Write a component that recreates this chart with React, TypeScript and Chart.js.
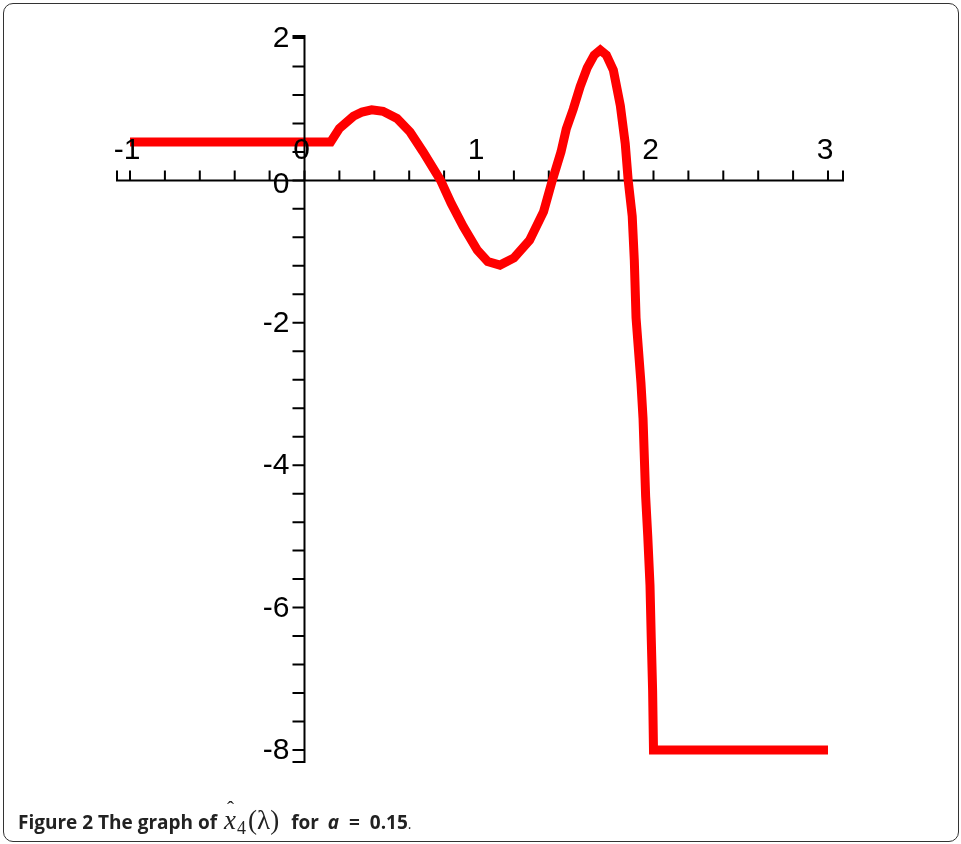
import React, { useEffect, useRef } from "react";
import { Chart, registerables } from "chart.js";

Chart.register(...registerables);

// λ samples and the corresponding values of x̂4(λ) for a = 0.15
const lambdaValues = [
  -1, 0.15, 0.2, 0.28, 0.33, 0.385, 0.45, 0.53, 0.605, 0.68, 0.75, 0.78, 0.84, 0.91, 0.99, 1.05, 1.12,
  1.2, 1.29, 1.37, 1.42, 1.47, 1.5, 1.54, 1.58, 1.62, 1.66, 1.695, 1.73, 1.77, 1.79, 1.81, 1.838,
  1.855, 1.878, 1.89, 1.9, 1.928, 1.94, 1.955, 1.967, 1.98, 1.987, 1.995, 2.0, 3.0,
];
const x4Values = [
  0.54, 0.54, 0.73, 0.9, 0.96, 0.99, 0.97, 0.87, 0.68, 0.4, 0.12, 0.0, -0.32, -0.65, -0.98, -1.14, -1.19,
  -1.09, -0.84, -0.44, 0.0, 0.4, 0.72, 1.0, 1.32, 1.58, 1.76, 1.83, 1.76, 1.55, 1.3, 1.05, 0.52,
  0.0, -0.5, -1.12, -1.93, -2.84, -3.34, -4.44, -4.99, -5.69, -6.42, -7.17, -8.0, -8.0,
];

// axis ticks
const xTickLabels = ["-1", "0", "1", "2", "3"];
const yTickLabels = ["2", "0", "-2", "-4", "-6", "-8"];
const xMinorStep = 0.2;
const yMinorStep = 0.4;
const xRange = [-1.0745, 3.086];
const yRange = [-8.169, 2.028];

const LABEL_FONT = '30px "Liberation Sans", Arial, sans-serif';

// Axes drawn through the origin, with ticks on one side, as in a classic CAS plot
const crossAxes = {
  id: "crossAxes",
  beforeDatasetsDraw(chart: any) {
    const { ctx, chartArea } = chart;
    const xs = chart.scales.x;
    const ys = chart.scales.y;
    const y0 = ys.getPixelForValue(0);
    ctx.save();
    ctx.strokeStyle = "#000";
    ctx.lineWidth = 2;
    ctx.beginPath();
    ctx.moveTo(chartArea.left, y0);
    ctx.lineTo(chartArea.right, y0);
    const first = Number(xTickLabels[0]);
    const last = Number(xTickLabels[xTickLabels.length - 1]);
    const n = Math.round((last - first) / xMinorStep);
    const tickXs: number[] = [chartArea.left, chartArea.right];
    for (let i = 0; i <= n; i++) tickXs.push(xs.getPixelForValue(first + i * xMinorStep));
    for (const px of tickXs) {
      ctx.moveTo(px, y0 + 1);
      ctx.lineTo(px, y0 - 10);
    }
    ctx.stroke();
    ctx.restore();
  },
  afterDatasetsDraw(chart: any) {
    const { ctx, chartArea } = chart;
    const xs = chart.scales.x;
    const ys = chart.scales.y;
    const x0 = xs.getPixelForValue(0);
    const y0 = ys.getPixelForValue(0);
    ctx.save();
    ctx.strokeStyle = "#000";
    ctx.lineWidth = 2;
    ctx.beginPath();
    ctx.moveTo(x0, chartArea.top);
    ctx.lineTo(x0, chartArea.bottom);
    const top = Number(yTickLabels[0]);
    const bottom = Number(yTickLabels[yTickLabels.length - 1]);
    const n = Math.round((top - bottom) / yMinorStep);
    const tickYs: number[] = [chartArea.top, chartArea.bottom];
    for (let i = 0; i <= n; i++) tickYs.push(ys.getPixelForValue(bottom + i * yMinorStep));
    for (const py of tickYs) {
      ctx.moveTo(x0 - 12, py);
      ctx.lineTo(x0 + 1, py);
    }
    ctx.stroke();

    ctx.fillStyle = "#000";
    ctx.font = LABEL_FONT;
    ctx.textAlign = "center";
    ctx.textBaseline = "middle";
    for (const lab of xTickLabels) {
      ctx.fillText(lab, xs.getPixelForValue(Number(lab)) - 3, y0 - 30);
    }
    ctx.textAlign = "right";
    for (const lab of yTickLabels) {
      const py = ys.getPixelForValue(Number(lab));
      ctx.fillText(lab, x0 - 15, lab === "0" ? py + 4 : py + 1);
    }
    ctx.restore();
  },
};

function GraphChart() {
  const canvasRef = useRef<HTMLCanvasElement | null>(null);

  useEffect(() => {
    if (!canvasRef.current) return;
    const points = lambdaValues.map((x, i) => ({ x, y: x4Values[i] }));
    const chart = new Chart(canvasRef.current, {
      type: "line",
      data: {
        datasets: [
          {
            data: points,
            borderColor: "#ff0000",
            borderWidth: 9,
            pointRadius: 0,
            tension: 0,
            fill: false,
            clip: false as any,
            borderJoinStyle: "miter",
          },
        ],
      },
      options: {
        animation: false,
        responsive: false,
        maintainAspectRatio: false,
        layout: { padding: { left: 117, right: 118, top: 36, bottom: 82 } },
        plugins: { legend: { display: false }, tooltip: { enabled: false } },
        scales: {
          x: { type: "linear", min: xRange[0], max: xRange[1], display: false },
          y: { type: "linear", min: yRange[0], max: yRange[1], display: false },
        },
      },
      plugins: [crossAxes],
    });
    return () => chart.destroy();
  }, []);

  return <canvas ref={canvasRef} width={961} height={844} style={{ position: "absolute", left: 0, top: 0 }} />;
}

export default function App() {
  const bold: React.CSSProperties = { fontWeight: 700 };
  return (
    <div style={{ position: "absolute", left: 0, top: 0, width: 961, height: 844, background: "#fff", overflow: "hidden" }}>
      <div
        style={{
          position: "absolute",
          left: 3,
          top: 3,
          width: 956,
          height: 839,
          boxSizing: "border-box",
          border: "1.5px solid #333",
          borderRadius: 10,
        }}
      />
      <GraphChart />
      <div
        style={{
          position: "absolute",
          left: 18,
          top: 806,
          fontFamily: '"Open Sans", "Noto Sans", sans-serif',
          fontSize: 19,
          color: "#222",
          whiteSpace: "nowrap",
          lineHeight: "28px",
        }}
      >
        <span style={bold}>Figure 2</span> <span style={bold}>The graph of</span>
        <span
          style={{
            fontFamily: '"Liberation Serif", "DejaVu Serif", serif',
            fontSize: 27,
            marginLeft: 7,
            marginRight: 12,
          }}
        >
          <span style={{ position: "relative", fontStyle: "italic" }}>
            x
            <span style={{ position: "absolute", left: 3, top: -10, fontStyle: "normal", fontSize: 21 }}>ˆ</span>
          </span>
          <span style={{ fontSize: 18, position: "relative", top: 5, marginLeft: 1 }}>4</span>
          <span style={{ marginLeft: 2 }}>(λ)</span>
        </span>
        <span style={bold}>for </span>
        <span style={{ ...bold, fontStyle: "italic", marginLeft: 4 }}>a</span>
        <span style={bold}>&nbsp; = &nbsp;0.15</span>
        <span style={{ fontSize: 14 }}>.</span>
      </div>
    </div>
  );
}
